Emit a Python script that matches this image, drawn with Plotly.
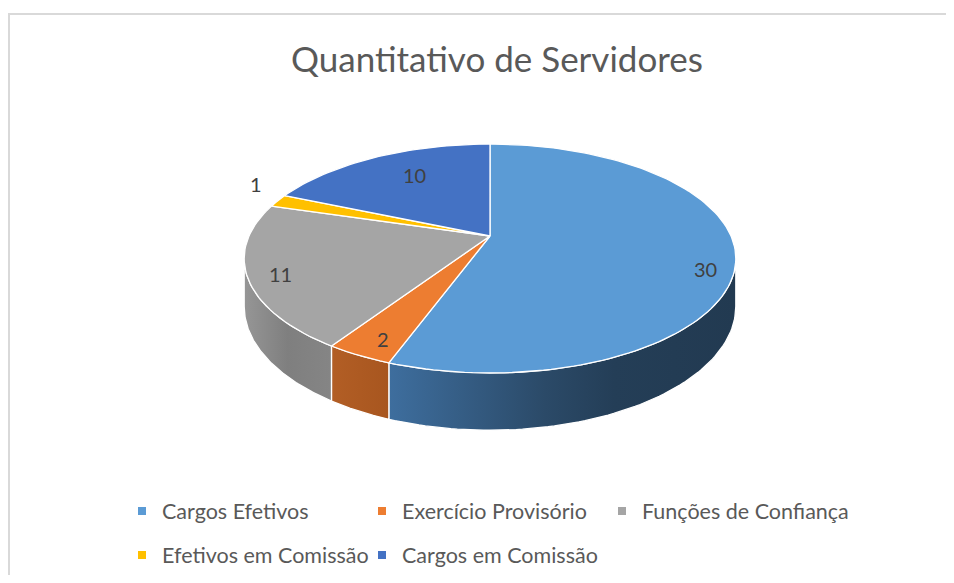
import numpy as np
import plotly.graph_objects as go

# ---- data ----
categories = ["Cargos Efetivos", "Exercício Provisório", "Funções de Confiança",
              "Efetivos em Comissão", "Cargos em Comissão"]
values = [30, 2, 11, 1, 10]
title_text = "Quantitativo de Servidores"

# ---- style ----
top_colors = ["#5B9BD5", "#ED7D31", "#A5A5A5", "#FFC000", "#4472C4"]
side_scales = [
    [[0, "#3E6E9E"], [0.45, "#2B4A68"], [0.65, "#243E57"], [1, "#223A51"]],
    [[0, "#B25E25"], [1, "#A8561F"]],
    [[0, "#969696"], [0.5, "#7F7F7F"], [1, "#858585"]],
    [[0, "#BF9000"], [1, "#B08500"]],
    [[0, "#2F5597"], [1, "#2A4C86"]],
]
label_r = [0.88, 0.84, 0.87, 1.11, 0.63]     # radial placement of value labels
label_dz = [15, 5, 3, -14, -9]               # vertical nudge of value labels
FONT = "Lato"

# page geometry: the html body has an 8px margin
W, Hgt, OFF = 954, 583, 8
FIG_W, FIG_H = W - OFF, Hgt - 2 * OFF

# 3D pie geometry (page pixels)
CX, CY = 490.0, 236.0   # projected centre of the top face
RX, RY = 241.0, 110.0   # horizontal / vertical radii
P = 0.197               # perspective strength
H = 46.0                # thickness of the pie


def project(theta_deg, r=1.0, depth=0.0):
    t = np.radians(theta_deg)
    u = r * np.sin(t)
    v = -r * np.cos(t)
    d = 1 - P * v
    return CX + RX * u / d, CY + RY * v / d + depth / d


def px(x):
    return (x - OFF) / FIG_W


def py(y):
    return 1 - (y - OFF) / FIG_H


total = sum(values)
bounds = np.concatenate([[0], np.cumsum(values)]) / total * 360.0

fig = go.Figure()

# visible range of the outer wall
t_left_vis = 180 - np.degrees(np.arccos(P))
t_right_vis = 180 + np.degrees(np.arccos(P))

# side walls
for i in range(len(values)):
    a, b = max(bounds[i], t_left_vis), min(bounds[i + 1], t_right_vis)
    if a >= b:
        continue
    th = np.linspace(a, b, 80)
    xt, yt = project(th)
    xb, yb = project(th[::-1], depth=H)
    xs = np.concatenate([xt, xb, xt[:1]])
    ys = np.concatenate([yt, yb, yt[:1]])
    fig.add_trace(go.Scatter(
        x=xs, y=ys, mode="lines", fill="toself",
        fillgradient=dict(type="horizontal", colorscale=side_scales[i]),
        line=dict(color="white", width=1.3), hoverinfo="skip", showlegend=False))

# top faces
for i in range(len(values)):
    n = max(4, int((bounds[i + 1] - bounds[i]) / 1.5))
    th = np.linspace(bounds[i], bounds[i + 1], n)
    xr, yr = project(th)
    xs = np.concatenate([[CX], xr, [CX]])
    ys = np.concatenate([[CY], yr, [CY]])
    fig.add_trace(go.Scatter(
        x=xs, y=ys, mode="lines", fill="toself", fillcolor=top_colors[i],
        line=dict(color="white", width=1.3), hoverinfo="skip", showlegend=False))

# value labels
for i, v in enumerate(values):
    mid = (bounds[i] + bounds[i + 1]) / 2
    lx, ly = project(mid, label_r[i], depth=label_dz[i])
    fig.add_annotation(x=lx, y=ly, text=str(v), showarrow=False,
                       font=dict(family=FONT, size=20, color="#404040"))

# legend entries
for i, c in enumerate(categories):
    fig.add_trace(go.Scatter(
        x=[None], y=[None], mode="markers", name=c,
        marker=dict(symbol="square", size=8, color=top_colors[i]),
        legend="legend" if i < 3 else "legend2",
        legendwidth=260 if i == 2 else None))

# chart border
fig.add_shape(type="rect", x0=9, y0=14, x1=990, y1=620,
              line=dict(color="#D9D9D9", width=2), layer="below")

leg_common = dict(orientation="h", xanchor="left", yanchor="middle",
                  entrywidth=195, entrywidthmode="pixels",
                  font=dict(family=FONT, size=21.5, color="#595959"),
                  bgcolor="rgba(0,0,0,0)", itemclick=False, itemdoubleclick=False)

fig.update_layout(
    width=FIG_W, height=FIG_H,
    margin=dict(l=0, r=0, t=0, b=0, autoexpand=False),
    paper_bgcolor="white", plot_bgcolor="white",
    title=dict(text=title_text, x=px(497), xanchor="center",
               y=py(60), yanchor="middle", automargin=False,
               font=dict(family=FONT, size=35, color="#595959")),
    xaxis=dict(range=[OFF, OFF + FIG_W], visible=False, fixedrange=True),
    yaxis=dict(range=[OFF + FIG_H, OFF], visible=False, fixedrange=True),
    legend=dict(x=px(122), y=py(511), **leg_common),
    legend2=dict(x=px(122), y=py(555), **leg_common),
    showlegend=True,
)

fig.write_html("out.html")
